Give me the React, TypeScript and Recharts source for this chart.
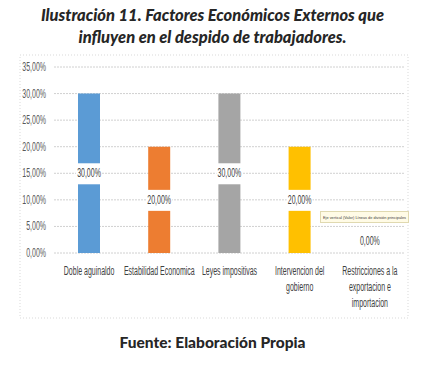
import React from 'react';
import { BarChart, Bar, XAxis, YAxis, CartesianGrid, Cell, LabelList } from 'recharts';

const categories = [
  'Doble aguinaldo',
  'Estabilidad Economica',
  'Leyes impositivas',
  'Intervencion del gobierno',
  'Restricciones a la exportacion e importacion',
];
const values = [0.3, 0.2, 0.3, 0.2, 0];
const colors = ['#5B9BD5', '#ED7D31', '#A5A5A5', '#FFC000', '#4472C4'];
const tickLines: Record<string, string[]> = {
  'Doble aguinaldo': ['Doble aguinaldo'],
  'Estabilidad Economica': ['Estabilidad Economica'],
  'Leyes impositivas': ['Leyes impositivas'],
  'Intervencion del gobierno': ['Intervencion del', 'gobierno'],
  'Restricciones a la exportacion e importacion': ['Restricciones a la', 'exportacion e', 'importacion'],
};
const yTicks = [0, 0.05, 0.1, 0.15, 0.2, 0.25, 0.3, 0.35];

const data = categories.map((name, i) => ({ name, value: values[i] }));

const pct = (v: number) => (v * 100).toFixed(2).replace('.', ',') + '%';
const FONT = '"Liberation Sans", sans-serif';
const SX = 0.56; // squeeze to mimic a condensed face

const NarrowText = ({ x, y, children, anchor = 'middle', size = 12.5, fill = '#404040' }: any) => (
  <text
    transform={`translate(${x},${y}) scale(${SX},1)`}
    textAnchor={anchor}
    fontSize={size}
    fill={fill}
    fontFamily={FONT}
  >
    {children}
  </text>
);

const XTick = (props: any) => {
  const { x, y, payload } = props;
  const lines = tickLines[payload.value] || [payload.value];
  const v = values[payload.index];
  return (
    <g>
      {v === 0 && <NarrowText x={x} y={y - 16}>{pct(v)}</NarrowText>}
      {lines.map((l, i) => (
        <NarrowText key={i} x={x} y={y + 14 + i * 16}>{l}</NarrowText>
      ))}
    </g>
  );
};

const YTick = (props: any) => {
  const { x, y, payload } = props;
  return <NarrowText x={x} y={y + 4} anchor="end" fill="#595959">{pct(payload.value)}</NarrowText>;
};

const CenterLabel = (props: any) => {
  const { x, y, width, height, value } = props;
  if (!height) return null;
  const cx = x + width / 2;
  const cy = y + height / 2;
  return (
    <g>
      <rect x={cx - 13} y={cy - 10} width={26} height={21} fill="#ffffff" />
      <NarrowText x={cx} y={cy + 4}>{pct(value)}</NarrowText>
    </g>
  );
};

export default function App() {
  return (
    <div style={{ position: 'absolute', left: 0, top: 0, width: 425, height: 365, background: '#fff', overflow: 'hidden' }}>
      <div
        style={{
          position: 'absolute', left: 0, top: 4, width: 425, textAlign: 'center',
          fontFamily: 'Lato, sans-serif', fontWeight: 900, fontStyle: 'italic', fontSize: 16.5, lineHeight: '22px', color: '#262626',
        }}
      >
        Ilustración 11. Factores Económicos Externos que
        <br />
        influyen en el despido de trabajadores.
      </div>
      <svg style={{ position: 'absolute', left: 0, top: 0 }} width={425} height={365}>
        <rect x={20} y={55} width={388} height={263} fill="none" stroke="#d9d9d9" strokeDasharray="1 2" />
      </svg>
      <div style={{ position: 'absolute', left: 0, top: 0 }}>
        <BarChart width={425} height={365} data={data} margin={{ top: 67, right: 20, bottom: 0, left: 8 }}>
          <CartesianGrid vertical={false} stroke="#d0d0d0" strokeDasharray="2 1" />
          <XAxis
            dataKey="name"
            axisLine={false}
            tickLine={false}
            interval={0}
            height={112}
            tick={<XTick />}
          />
          <YAxis
            width={46}
            domain={[0, 0.35]}
            ticks={yTicks}
            axisLine={false}
            tickLine={false}
            tick={<YTick />}
          />
          <Bar dataKey="value" barSize={22} isAnimationActive={false}>
            {data.map((d, i) => (
              <Cell key={d.name} fill={colors[i]} />
            ))}
            <LabelList dataKey="value" content={<CenterLabel />} />
          </Bar>
        </BarChart>
      </div>
      <svg style={{ position: 'absolute', left: 0, top: 0 }} width={425} height={365}>
        <rect x={320.5} y={211.5} width={88} height={11} fill="#fffbe6" stroke="#e0d9b0" />
        <text x={323} y={219} fontSize={4} fontFamily={FONT} fill="#404040" textLength={83} lengthAdjust="spacingAndGlyphs">
          Eje vertical (Valor) Líneas de división principales
        </text>
      </svg>
      <div
        style={{
          position: 'absolute', left: 0, top: 333, width: 425, textAlign: 'center',
          fontFamily: 'Lato, sans-serif', fontWeight: 900, fontSize: 15.5, color: '#262626',
        }}
      >
        Fuente: Elaboración Propia
      </div>
    </div>
  );
}
